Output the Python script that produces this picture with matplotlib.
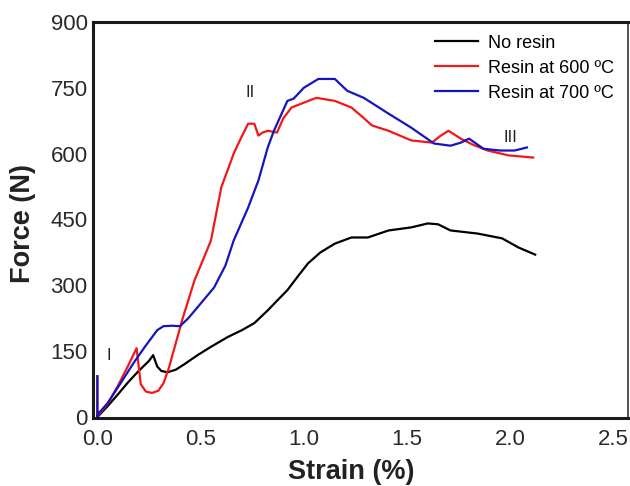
import numpy as np
import matplotlib
matplotlib.use("Agg")
import matplotlib.pyplot as plt

plt.rcParams['font.family'] = ['Liberation Sans', 'DejaVu Sans']

# no resin
x_black = [0, 0.05, 0.10, 0.15, 0.20, 0.25, 0.27, 0.29, 0.31, 0.34, 0.38, 0.42, 0.485,
           0.55, 0.63, 0.70, 0.76, 0.825, 0.87, 0.92, 0.97, 1.02, 1.08, 1.15, 1.23,
           1.31, 1.41, 1.52, 1.60, 1.65, 1.71, 1.84, 1.96, 2.04, 2.12]
y_black = [0, 25, 52, 80, 105, 128, 141, 115, 105, 102, 108, 120, 141,
           160, 182, 198, 214, 243, 265, 289, 320, 350, 375, 395, 409,
           409, 425, 432, 441, 439, 425, 418, 407, 386, 370]

# resin at 600
x_red = [0.0, 0.0, 0.005, 0.05, 0.10, 0.15, 0.19, 0.21, 0.235, 0.265, 0.295, 0.32, 0.345,
         0.37, 0.41, 0.47, 0.55, 0.60, 0.66, 0.70, 0.73, 0.76, 0.78, 0.80, 0.825, 0.87,
         0.90, 0.94, 1.0, 1.06, 1.15, 1.23, 1.28, 1.33, 1.41, 1.52, 1.62, 1.66, 1.70,
         1.76, 1.82, 1.89, 1.99, 2.11]
y_red = [93, 0, 5, 30, 72, 118, 157, 75, 58, 55, 60, 77, 110,
         152, 220, 311, 402, 523, 600, 640, 668, 668, 641, 648, 652, 648,
         680, 705, 716, 727, 720, 705, 685, 664, 652, 630, 625, 640, 652,
         634, 620, 607, 596, 591]

# resin at 700
x_blue = [0.0, 0.0, 0.005, 0.05, 0.10, 0.175, 0.23, 0.29, 0.32, 0.36, 0.40, 0.44, 0.485,
          0.565, 0.62, 0.66, 0.73, 0.78, 0.825, 0.855, 0.92, 0.95, 1.0, 1.07, 1.15,
          1.21, 1.29, 1.41, 1.52, 1.63, 1.71, 1.76, 1.80, 1.87, 1.95, 2.02, 2.08]
y_blue = [93, 0, 8, 32, 68, 123, 160, 198, 207, 208, 207, 225, 250,
          295, 345, 402, 477, 539, 614, 652, 720, 725, 750, 770, 770,
          743, 727, 691, 659, 623, 618, 625, 634, 611, 607, 607, 614]

labels = ['No resin', 'Resin at 600 ºC', 'Resin at 700 ºC']
stage_text = ['I', 'II', 'III']
stage_x = [0.055, 0.74, 2.0]
stage_y = [141, 739, 637]

fig = plt.figure(figsize=(6.3, 4.86), dpi=100)
ax = fig.add_axes([0.148, 0.14, 0.849, 0.815])

ax.plot(x_black, y_black, color='black', lw=1.6, label=labels[0])
ax.plot(x_red, y_red, color='#f01818', lw=1.6, label=labels[1])
ax.plot(x_blue, y_blue, color='#1414c0', lw=1.6, label=labels[2])

for t, xx, yy in zip(stage_text, stage_x, stage_y):
    ax.text(xx, yy, t, fontsize=12, ha='center', va='center', color='#222222')

ax.set_xlim(-0.02, 2.57)
ax.set_ylim(-2, 900)
ax.set_xticks([0.0, 0.5, 1.0, 1.5, 2.0, 2.5])
ax.set_xticklabels(['0.0', '0.5', '1.0', '1.5', '2.0', '2.5'])
ax.set_yticks([0, 150, 300, 450, 600, 750, 900])
ax.tick_params(length=0, labelsize=16, colors='#2a2a2a')
ax.tick_params(axis='x', pad=8)
ax.tick_params(axis='y', pad=4)

for side in ['left', 'bottom', 'top']:
    ax.spines[side].set_linewidth(2.2)
    ax.spines[side].set_color('#1a1a1a')
ax.spines['right'].set_linewidth(1.2)
ax.spines['right'].set_color('#333333')

ax.set_xlabel('Strain (%)', fontsize=19.5, fontweight='bold', color='#222222', va='baseline')
ax.set_ylabel('Force (N)', fontsize=19.5, fontweight='bold', color='#222222', va='baseline')
ax.xaxis.set_label_coords(0.482, -0.155)
ax.yaxis.set_label_coords(-0.118, 0.49)

ax.legend(loc='upper right', frameon=False, fontsize=13, handlelength=2.4,
          handletextpad=0.55, borderaxespad=0.3, labelspacing=0.45,
          bbox_to_anchor=(0.997, 1.0))

fig.savefig('out.png', dpi=100)
